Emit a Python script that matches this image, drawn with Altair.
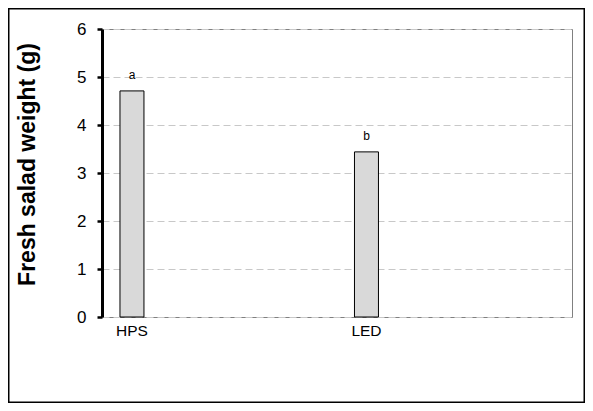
import altair as alt
import pandas as pd

categories = ["HPS", "LED"]
weights = [4.71, 3.44]
letters = ["a", "b"]
y_ticks = [0, 1, 2, 3, 4, 5, 6]

df = pd.DataFrame({"cat": categories, "w": weights, "lab": letters})
FONT = "Liberation Sans"

W, H = 470, 288
PL, PT, PR, PB = 94, 21, 13, 86

xs = alt.X("cat:N", sort=categories, title=None,
           scale=alt.Scale(paddingInner=0.8977, paddingOuter=0.451, align=0.085),
           axis=alt.Axis(labelAngle=0, labelFontSize=15.5, labelFont=FONT, labelColor="black",
                         ticks=False, domain=False, labelPadding=6))
ys = alt.Y("w:Q", scale=alt.Scale(domain=[0, 6]),
           axis=alt.Axis(values=y_ticks, title="Fresh salad weight (g)",
                         titleFont=FONT, titleFontSize=23, titleFontWeight="bold",
                         titleColor="black", titleBaseline="alphabetic",
                         titleX=-68, titleY=H / 2 - 9, titleAngle=-90,
                         labelFont=FONT, labelFontSize=17, labelColor="black",
                         labelPadding=11, tickSize=5, tickWidth=2.5, tickColor="black",
                         domainColor="black", domainWidth=3,
                         grid=True, gridColor="#c8c8c8", gridDash=[7, 4], gridWidth=1))

bars = alt.Chart(df).mark_bar(color="#d9d9d9", stroke="black", strokeWidth=1).encode(x=xs, y=ys)
text = alt.Chart(df).mark_text(dy=-16, fontSize=12, font=FONT, color="black").encode(
    x=alt.X("cat:N", sort=categories), y=alt.Y("w:Q"), text="lab:N")

frame = alt.Chart(pd.DataFrame({"k": [0]})).mark_rect(fill=None, stroke="black", strokeWidth=1.5).encode(
    x=alt.value(-PL + 0.75), x2=alt.value(W + PR - 0.75),
    y=alt.value(-PT + 0.75), y2=alt.value(H + PB - 0.75))

chart = alt.layer(bars, text, frame).properties(
    width=W, height=H,
    autosize=alt.AutoSizeParams(type="none"),
    padding={"left": PL, "top": PT, "right": PR, "bottom": PB},
    background="white",
).configure_view(stroke="#808080", strokeWidth=1)

chart.save("out.html", embed_options={"renderer": "svg", "actions": False})
